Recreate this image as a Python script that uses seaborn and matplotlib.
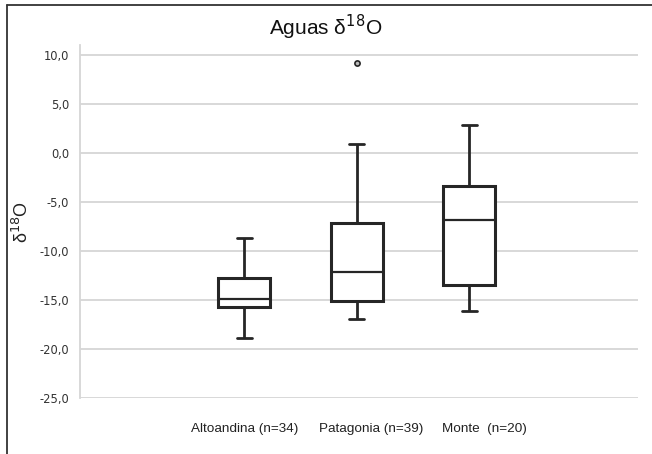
import numpy as np
import pandas as pd
import matplotlib
matplotlib.use("Agg")
import matplotlib.pyplot as plt
from matplotlib.lines import Line2D
from matplotlib.ticker import FuncFormatter
from matplotlib.transforms import ScaledTranslation
import seaborn as sns

# Five-number summaries
categories = ["Altoandina (n=34)", "Patagonia (n=39)", "Monte  (n=20)"]
whisker_low = [-18.85, -16.9, -16.09]
q1 = [-15.68, -15.1, -13.47]
median = [-14.93, -12.11, -6.84]
q3 = [-12.72, -7.17, -3.34]
whisker_high = [-8.7, 0.92, 2.86]
outlier_cat = ["Patagonia (n=39)"]
outlier_val = [9.21]
yticks = [10, 5, 0, -5, -10, -15, -20, -25]

rows = []
for i, c in enumerate(categories):
    for v in (whisker_low[i], q1[i], median[i], q3[i], whisker_high[i]):
        rows.append({"grupo": c, "d18O": v})
df = pd.DataFrame(rows)
df_out = pd.DataFrame({"grupo": outlier_cat, "d18O": outlier_val})

sns.set_theme(style="white")
plt.rcParams["font.family"] = ["Liberation Sans", "DejaVu Sans"]

fig = plt.figure(figsize=(6.52, 4.54), dpi=100)
ax = fig.add_axes([80 / 652, 1 - 398 / 454, (638 - 80) / 652, (398 - 45) / 454])

edge = "#262626"
sns.boxplot(
    data=df, x="grupo", y="d18O", order=categories, ax=ax,
    width=0.46, color="white", linecolor=edge, linewidth=2,
    showfliers=False, capwidths=0.13,
    boxprops=dict(facecolor="white", edgecolor=edge, linewidth=2.2),
    medianprops=dict(color=edge, linewidth=1.6),
    whiskerprops=dict(color=edge, linewidth=2),
    capprops=dict(color=edge, linewidth=2),
    zorder=3,
)
sns.scatterplot(
    data=df_out, x="grupo", y="d18O", ax=ax, s=14, marker="o",
    color="#bbbbbb", edgecolor=edge, linewidth=1.2, zorder=4, legend=False,
)

ax.set_xlim(-1.46, 3.5)
ax.set_ylim(-25, 11.0)
ax.set_yticks(yticks)
ax.yaxis.set_major_formatter(FuncFormatter(lambda v, p: f"{v:.1f}".replace(".", ",")))
ax.grid(axis="y", color="#d6d6d6", linewidth=1.3, zorder=0)
ax.set_axisbelow(True)
for s in ("top", "right", "bottom"):
    ax.spines[s].set_visible(False)
ax.spines["left"].set_color("#d6d6d6")
ax.spines["left"].set_linewidth(1.3)
ax.tick_params(axis="both", length=0)
ax.tick_params(axis="y", pad=8, labelsize=8.3, labelcolor="#333333")
ax.tick_params(axis="x", pad=18, labelsize=9.7, labelcolor="#222222")
for lab in ax.get_yticklabels():
    lab.set_fontfamily(["DejaVu Sans"])
# shift the 2nd and 3rd category labels slightly right, as in the reference
shifts = [0, 14, 15]
for lab, dx in zip(ax.get_xticklabels(), shifts):
    lab.set_transform(lab.get_transform() + ScaledTranslation(dx / 100, 0, fig.dpi_scale_trans))
ax.set_xlabel("")
ax.set_ylabel("")
fig.text(22 / 652, 1 - 222 / 454, "δ$^{18}$O", rotation=90, fontsize=13,
         color="#222222", ha="center", va="center")

fig.text(0.5, 1 - 27 / 454, "Aguas δ$^{18}$O", fontsize=15, color="#111111",
         ha="center", va="center")

# Outer frame (top and left edges visible)
fig.add_artist(Line2D([7 / 652, 7 / 652], [0, 1 - 5 / 454], transform=fig.transFigure,
                      color="#333333", linewidth=1.3))
fig.add_artist(Line2D([7 / 652, 1], [1 - 5 / 454, 1 - 5 / 454], transform=fig.transFigure,
                      color="#333333", linewidth=1.3))

fig.savefig("out.png", dpi=100)
